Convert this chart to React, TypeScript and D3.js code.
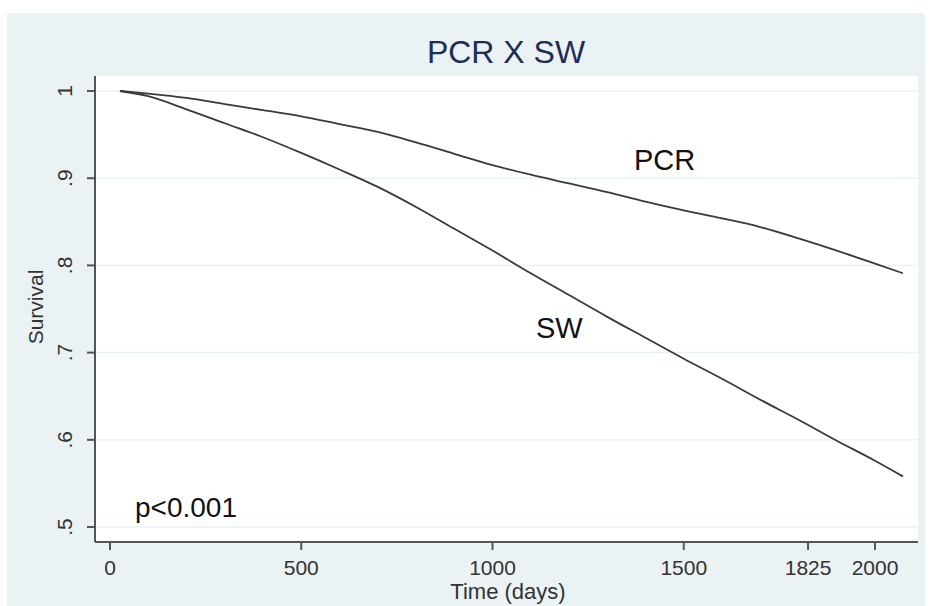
import React from "react";
import { scaleLinear, line, curveMonotoneX } from "d3";

const days = [26, 100, 200, 300, 400, 500, 600, 700, 800, 900, 1000, 1100, 1200, 1300, 1400, 1500, 1600, 1700, 1800, 1900, 2000, 2073];
const pcrSurvival = [1.0, 0.997, 0.992, 0.985, 0.978, 0.971, 0.962, 0.953, 0.941, 0.928, 0.915, 0.904, 0.894, 0.884, 0.873, 0.863, 0.854, 0.844, 0.831, 0.817, 0.802, 0.791];
const swSurvival = [1.0, 0.994, 0.979, 0.963, 0.947, 0.929, 0.91, 0.89, 0.867, 0.842, 0.817, 0.791, 0.766, 0.741, 0.717, 0.693, 0.67, 0.646, 0.623, 0.599, 0.576, 0.558];
const xTicks = [0, 500, 1000, 1500, 1825, 2000];
const yTicks = [0.5, 0.6, 0.7, 0.8, 0.9, 1];
const yTickLabels = [".5", ".6", ".7", ".8", ".9", "1"];

const FONT = "'Liberation Sans', Arial, sans-serif";

const App = () => {
  const x = scaleLinear().domain([0, 2000]).range([110, 875]);
  const y = scaleLinear().domain([0.5, 1]).range([527, 91]);

  const plotLeft = 95;
  const plotRight = 918;
  const plotTop = 76;
  const plotBottom = 542;

  const pathOf = (vals: number[]) =>
    line<number>()
      .x((d, i) => x(days[i]))
      .y((d) => y(d))
      .curve(curveMonotoneX)(vals) || "";

  return (
    <svg width={932} height={606} style={{ position: "absolute", left: 0, top: 0 }} fontFamily={FONT}>
      <rect x={0} y={0} width={932} height={606} fill="#ffffff" />
      <rect x={7} y={13} width={918} height={593} fill="#eaf2f3" />
      <rect x={plotLeft} y={plotTop} width={plotRight - plotLeft} height={plotBottom - plotTop} fill="#ffffff" />

      {/* gridlines */}
      {yTicks.map((t) => (
        <line key={"g" + t} x1={plotLeft} x2={plotRight} y1={y(t)} y2={y(t)} stroke="#eaf2f3" strokeWidth={1.5} />
      ))}

      {/* curves */}
      <path d={pathOf(pcrSurvival)} fill="none" stroke="#3a3a3a" strokeWidth={1.8} />
      <path d={pathOf(swSurvival)} fill="none" stroke="#3a3a3a" strokeWidth={1.8} />

      {/* axes */}
      <line x1={plotLeft} x2={plotLeft} y1={plotTop} y2={plotBottom} stroke="#555" strokeWidth={2} />
      <line x1={plotLeft} x2={plotRight} y1={plotBottom} y2={plotBottom} stroke="#555" strokeWidth={2} />

      {yTicks.map((t, i) => (
        <g key={"y" + t}>
          <line x1={plotLeft - 8} x2={plotLeft} y1={y(t)} y2={y(t)} stroke="#555" strokeWidth={2} />
          <text
            transform={`translate(72,${y(t)}) rotate(-90)`}
            textAnchor="middle"
            fontSize={21}
            fill="#333"
          >
            {yTickLabels[i]}
          </text>
        </g>
      ))}

      {xTicks.map((t) => (
        <g key={"x" + t}>
          <line x1={x(t)} x2={x(t)} y1={plotBottom} y2={plotBottom + 8} stroke="#555" strokeWidth={2} />
          <text x={x(t)} y={575} textAnchor="middle" fontSize={21} fill="#333">
            {t}
          </text>
        </g>
      ))}

      {/* titles & labels */}
      <text x={506} y={63} textAnchor="middle" fontSize={32} fill="#1c2d57">
        PCR X SW
      </text>
      <text x={508} y={599} textAnchor="middle" fontSize={22} fill="#333">
        Time (days)
      </text>
      <text transform="translate(43,307) rotate(-90)" textAnchor="middle" fontSize={21} fill="#333">
        Survival
      </text>
      <text x={634} y={170} fontSize={29} fill="#111">
        PCR
      </text>
      <text x={536} y={338} fontSize={29} fill="#111">
        SW
      </text>
      <text x={135} y={517} fontSize={28} fill="#111">
        p&lt;0.001
      </text>
    </svg>
  );
};

export default App;
